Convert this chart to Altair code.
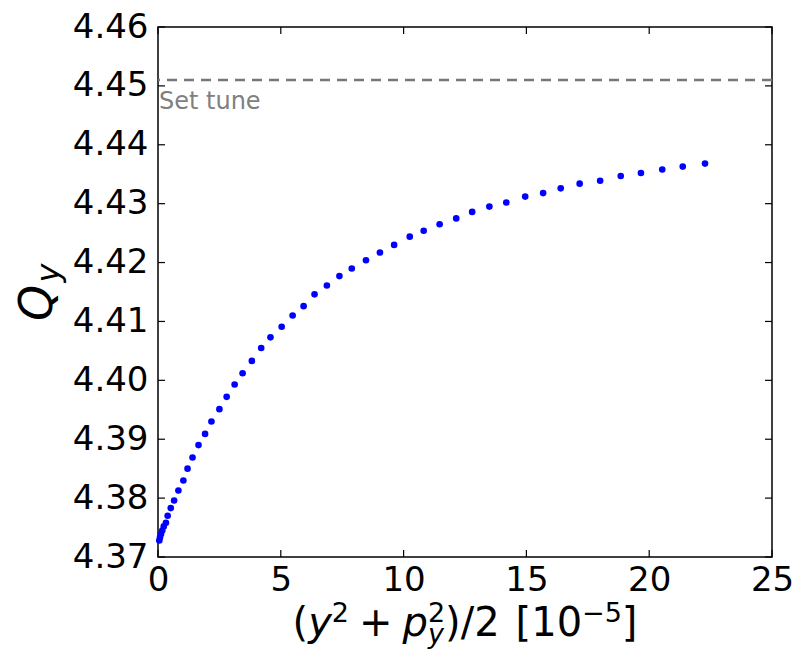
import altair as alt
import pandas as pd

# ---- data ----
action = [0.053, 0.081, 0.122, 0.174, 0.235, 0.324, 0.393, 0.519, 0.656, 0.831,
          1.033, 1.203, 1.406, 1.649, 1.917, 2.176, 2.500, 2.796, 3.120, 3.444,
          3.821, 4.202, 4.579, 5.036, 5.482, 5.928, 6.374, 6.876, 7.387, 7.889,
          8.468, 9.036, 9.615, 10.251, 10.818, 11.467, 12.143, 12.792, 13.493, 14.182,
          14.951, 15.681, 16.398, 17.168, 18.002, 18.841, 19.664, 20.531, 21.366, 22.273]
tune = [4.3728, 4.3733, 4.3739, 4.3745, 4.3752, 4.3758, 4.3770, 4.3783, 4.3796, 4.3813,
        4.3830, 4.3850, 4.3869, 4.3890, 4.3909, 4.3930, 4.3951, 4.3972, 4.3993, 4.4012,
        4.4033, 4.4055, 4.4073, 4.4091, 4.4110, 4.4126, 4.4146, 4.4161, 4.4177, 4.4190,
        4.4204, 4.4217, 4.4230, 4.4244, 4.4254, 4.4265, 4.4275, 4.4286, 4.4295, 4.4302,
        4.4312, 4.4318, 4.4326, 4.4334, 4.4339, 4.4347, 4.4352, 4.4358, 4.4363, 4.4368]
set_tune = [4.451]
set_tune_label = ["Set tune"]
x_ticks = [0, 5, 10, 15, 20, 25]
y_ticks = [4.37, 4.38, 4.39, 4.40, 4.41, 4.42, 4.43, 4.44, 4.45, 4.46]

W, H = 614, 530
FONT = "DejaVu Sans"
TICK_FS = 34
TITLE_FS = 40
SCRIPT_FS = 27

df = pd.DataFrame({"J": action, "Q": tune})
df_tune = pd.DataFrame({"J": [0.0], "Q": set_tune, "label": set_tune_label})
df_xt = pd.DataFrame({"v": x_ticks})
df_yt = pd.DataFrame({"v": y_ticks})

xs = alt.Scale(domain=[x_ticks[0], x_ticks[-1]], nice=False, zero=False)
ys = alt.Scale(domain=[y_ticks[0], y_ticks[-1]], nice=False, zero=False)

xax = alt.Axis(values=x_ticks, ticks=False, domain=False, grid=False,
               labelFontSize=TICK_FS, labelFont=FONT, labelColor="black",
               labelPadding=6, title=None, format="d", labelFlush=False)
yax = alt.Axis(values=y_ticks, ticks=False, domain=False, grid=False,
               labelFontSize=TICK_FS, labelFont=FONT, labelColor="black",
               labelPadding=10, title=None, format=".2f", labelFlush=False)

points = alt.Chart(df).mark_circle(size=44, color="#0000ff", opacity=1).encode(
    x=alt.X("J:Q", scale=xs, axis=xax),
    y=alt.Y("Q:Q", scale=ys, axis=yax),
)

tune_line = alt.Chart(df_tune).mark_rule(color="#777777", strokeWidth=2.5,
                                         strokeDash=[10, 7]).encode(
    y=alt.Y("Q:Q", scale=ys, axis=yax)
)
tune_text = alt.Chart(df_tune).mark_text(align="left", baseline="alphabetic",
                                         font=FONT, fontSize=24, color="#808080",
                                         dx=1, dy=29).encode(
    x=alt.X("J:Q", scale=xs, axis=xax),
    y=alt.Y("Q:Q", scale=ys, axis=yax),
    text="label:N",
)

TL = 7
tick_style = dict(color="black", strokeWidth=1.2)
t_bottom = alt.Chart(df_xt).mark_rule(**tick_style).encode(
    x=alt.X("v:Q", scale=xs, axis=xax), y=alt.value(H), y2=alt.value(H - TL))
t_top = alt.Chart(df_xt).mark_rule(**tick_style).encode(
    x=alt.X("v:Q", scale=xs, axis=xax), y=alt.value(0), y2=alt.value(TL))
t_left = alt.Chart(df_yt).mark_rule(**tick_style).encode(
    y=alt.Y("v:Q", scale=ys, axis=yax), x=alt.value(0), x2=alt.value(TL))
t_right = alt.Chart(df_yt).mark_rule(**tick_style).encode(
    y=alt.Y("v:Q", scale=ys, axis=yax), x=alt.value(W), x2=alt.value(W - TL))


def txt(s, x, y, size, italic=False, angle=0, align="left"):
    kw = dict(text=s, font=FONT, fontSize=size, align=align,
              baseline="alphabetic", color="black",
              fontStyle="italic" if italic else "normal")
    if angle:
        kw["angle"] = angle
    return alt.Chart(alt.Data(values=[{}])).mark_text(**kw).encode(
        x=alt.value(x), y=alt.value(y))


# x-axis title: (y^2 + p_y^2)/2 [10^-5], composed piecewise
S, s = TITLE_FS, SCRIPT_FS
base_y = H + 79
sup_y = base_y - 0.36 * S
sub_y = base_y + 7
pieces = [  # text, advance(px), role, italic
    ("(", 0.390 * S, "m", False),
    ("y", 0.592 * S, "m", True),
    ("2", 0.636 * s, "sup", False),
    ("", 0.25 * S, "gap", False),
    ("+", 0.838 * S, "m", False),
    ("", 0.25 * S, "gap", False),
    ("p", 0.635 * S, "m", True),
    ("2", 0.0, "sup", False),
    ("y", 0.636 * s, "sub", True),
    (")", 0.390 * S, "m", False),
    ("/", 0.337 * S, "m", False),
    ("2", 0.636 * S, "m", False),
    ("", 0.40 * S, "gap", False),
    ("[", 0.390 * S, "m", False),
    ("10", 1.272 * S, "m", False),
    ("\u22125", (0.838 + 0.636) * s, "sup", False),
    ("]", 0.390 * S, "m", False),
]
total = sum(p[1] for p in pieces)
cx = W / 2 - total / 2
title_layers = []
for t, adv, role, it in pieces:
    if t:
        if role == "m":
            title_layers.append(txt(t, cx, base_y, S, it))
        elif role == "sup":
            title_layers.append(txt(t, cx, sup_y, s, it))
        else:
            title_layers.append(txt(t, cx, sub_y, s, it))
    cx += adv

# y-axis title: Q_y rotated
ytitle = [
    txt("Q", -106, 276, 46, True, angle=270, align="center"),
    txt("y", -99, 246, 32, True, angle=270, align="center"),
]

chart = alt.layer(
    points, tune_line, tune_text, t_bottom, t_top, t_left, t_right,
    *title_layers, *ytitle,
).properties(
    width=W, height=H,
    background="white",
    autosize=alt.AutoSizeParams(type="none"),
    padding={"left": 150, "top": 19, "right": 22, "bottom": 93},
).configure_view(
    stroke="black", strokeWidth=1.5
)

chart.save("out.html", embed_options={"renderer": "svg", "actions": False})
